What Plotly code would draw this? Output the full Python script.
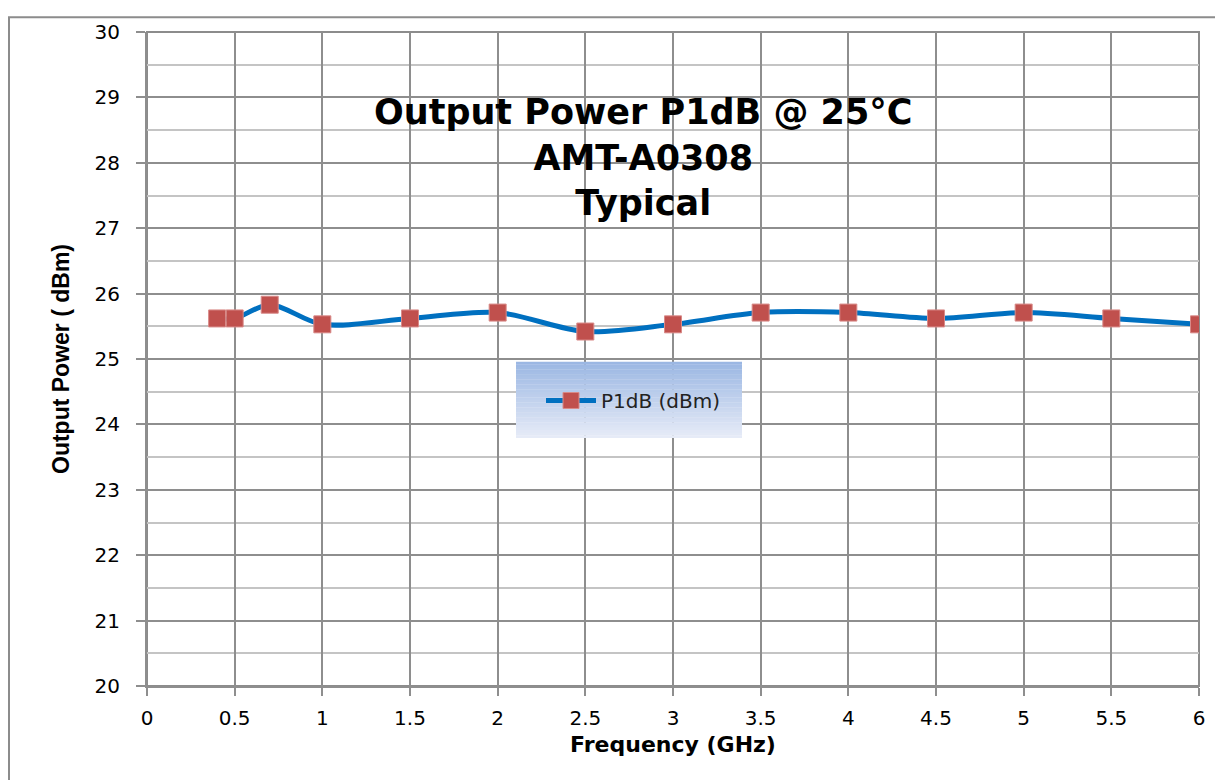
import plotly.graph_objects as go

freq_ghz = [0.4, 0.5, 0.7, 1.0, 1.5, 2.0, 2.5, 3.0, 3.5, 4.0, 4.5, 5.0, 5.5, 6.0]
p1db_dbm = [25.62, 25.62, 25.83, 25.53, 25.62, 25.71, 25.42, 25.53, 25.71, 25.71, 25.62, 25.71, 25.62, 25.53]
series_name = "P1dB (dBm)"
title_lines = ["Output Power P1dB @ 25°C", "AMT-A0308", "Typical"]
x_title = "Frequency (GHz)"
y_title = "Output Power ( dBm)"
x_ticks = [0, 0.5, 1, 1.5, 2, 2.5, 3, 3.5, 4, 4.5, 5, 5.5, 6]
y_ticks = [20, 21, 22, 23, 24, 25, 26, 27, 28, 29, 30]

# page offset of 8px (browser body margin) -> plot area 147..1199, 25..687 on screen
OX, OY = 8, 9
L, T, PW, PH = 147 - OX, 25 - OY, 1052, 662
W, H = 1215, 772


def px(x):
    return (x - OX - L) / PW


def py(y):
    return (T + PH - (y - OY)) / PH


fig = go.Figure()
fig.add_trace(go.Scatter(
    x=freq_ghz, y=p1db_dbm, name=series_name, mode="lines+markers",
    line=dict(color="#0070C0", width=5, shape="spline", smoothing=0.9),
    marker=dict(symbol="square", size=17, color="#C0504D",
                line=dict(color="#D88A88", width=1)),
))

shapes = []
n = 30
x0p, x1p = px(516), px(742)
ytop, ybot = py(359), py(436)
c_top = (155, 183, 227)
c_bot = (230, 235, 247)
for i in range(n):
    t = i / (n - 1)
    c = tuple(int(round(a + (b - a) * t)) for a, b in zip(c_top, c_bot))
    ya = ytop - (ytop - ybot) * i / n
    yb = ytop - (ytop - ybot) * (i + 1) / n
    shapes.append(dict(type="rect", xref="paper", yref="paper", x0=x0p, x1=x1p,
                       y0=yb, y1=ya + 0.0005, line=dict(width=0),
                       fillcolor="rgb(%d,%d,%d)" % c, layer="above"))
# outer chart border
shapes.append(dict(type="rect", xref="paper", yref="paper",
                   x0=px(9), x1=1.05, y0=-0.2, y1=py(10),
                   line=dict(color="#8C8C8C", width=2), fillcolor="rgba(0,0,0,0)", layer="below"))
# plot area frame
shapes.append(dict(type="rect", xref="paper", yref="paper", x0=0, x1=1, y0=0, y1=1,
                   line=dict(color="#8C8C8C", width=2), fillcolor="rgba(0,0,0,0)", layer="below"))

fig.update_layout(
    width=W, height=H,
    margin=dict(l=L, r=W - L - PW, t=T, b=H - T - PH),
    paper_bgcolor="white", plot_bgcolor="white",
    showlegend=True,
    legend=dict(x=px(541), y=py(398), xanchor="left", yanchor="middle",
                bgcolor="rgba(0,0,0,0)", font=dict(family="DejaVu Sans", size=20, color="#222"),
                itemwidth=50),
    shapes=shapes,
    annotations=[dict(
        text="<b>" + "<br>".join(title_lines) + "</b>",
        xref="paper", yref="paper", x=px(643), y=py(152),
        xanchor="center", yanchor="middle", showarrow=False,
        font=dict(family="DejaVu Sans", size=35, color="black"),
    )],
    xaxis=dict(
        range=[0, 6], tickvals=x_ticks, ticktext=[f"{v:g}" for v in x_ticks],
        showgrid=True, gridcolor="#8E8E8E", gridwidth=1.5,
        showline=True, linecolor="#8E8E8E", linewidth=2,
        ticks="outside", ticklen=8, tickcolor="#8E8E8E", tickwidth=1.5,
        ticklabelstandoff=5,
        tickfont=dict(family="DejaVu Sans", size=20, color="black"),
        title=dict(text="<b>" + x_title + "</b>", standoff=8,
                   font=dict(family="DejaVu Sans", size=22, color="black")),
        zeroline=False,
    ),
    yaxis=dict(
        range=[20, 30], tickvals=y_ticks,
        showgrid=True, gridcolor="#8E8E8E", gridwidth=1.5,
        minor=dict(dtick=0.5, showgrid=True, gridcolor="#C4C4C4", gridwidth=1.5, ticks=""),
        showline=True, linecolor="#8E8E8E", linewidth=2,
        ticks="outside", ticklen=9, tickcolor="#8E8E8E", tickwidth=1.5,
        ticklabelstandoff=12,
        tickfont=dict(family="DejaVu Sans", size=20, color="black"),
        title=dict(text="<b>" + y_title + "</b>", standoff=18,
                   font=dict(family="Liberation Sans Narrow, Liberation Sans", size=23, color="black")),
        zeroline=False,
    ),
)

fig.write_html("out.html")
